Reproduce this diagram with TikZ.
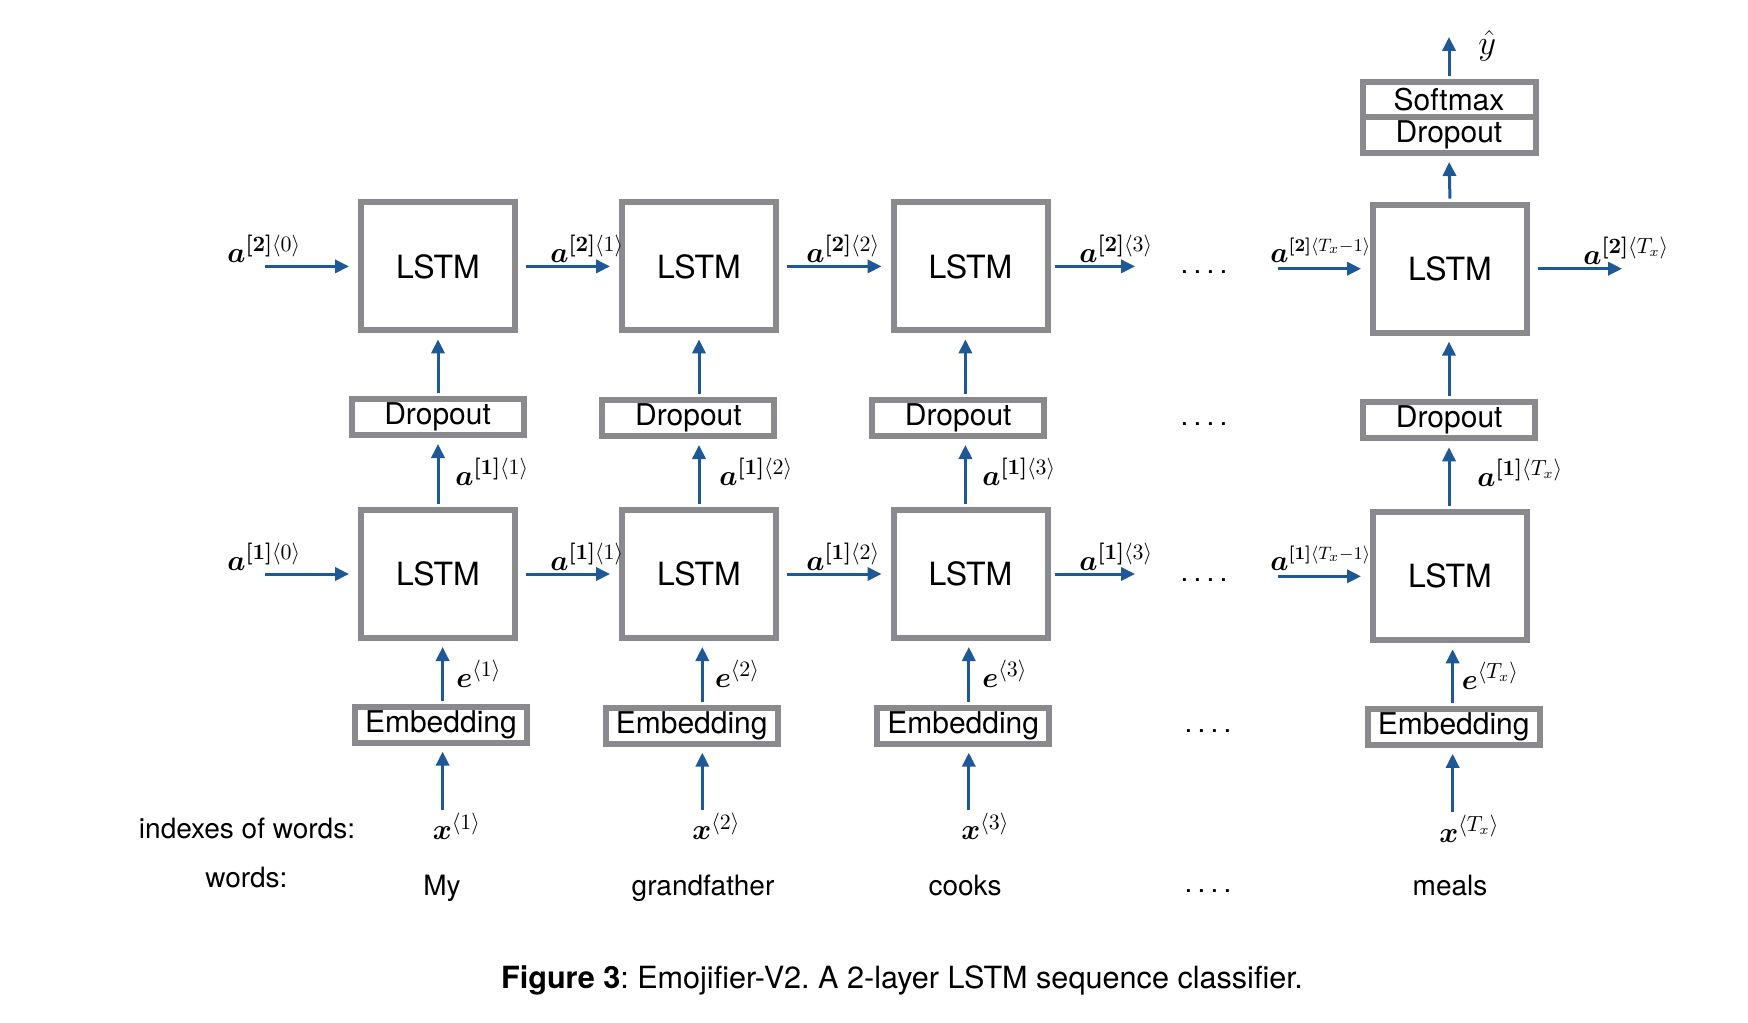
\documentclass[tikz,border=0pt]{standalone}
\usepackage[no-math]{fontspec}
\setmainfont{TeX Gyre Heros}
\usepackage{bm}
\usetikzlibrary{arrows.meta}
\definecolor{arrblue}{RGB}{30,88,150}
\definecolor{boxgray}{RGB}{138,138,142}
\newcommand{\sepdots}{.\hspace{2.6pt}.\hspace{2.6pt}.\hspace{2.6pt}.}
\tikzset{
  lstmbox/.style={draw=boxgray, line width=3pt, minimum width=77pt, minimum height=64pt, inner sep=0pt, font=\fontsize{16}{19}\selectfont},
  layerbox/.style={draw=boxgray, line width=3pt, minimum width=86pt, minimum height=18pt, inner sep=0pt, font=\fontsize{15}{18}\selectfont},
  arr/.style={draw=arrblue, line width=1.5pt, -{Triangle[length=7pt,width=6.6pt]}},
  harr/.style={arr, shorten <=4pt, shorten >=4.5pt},
  varr/.style={arr, shorten <=1.5pt, shorten >=3pt},
  mlab/.style={font=\fontsize{15}{17}\selectfont, inner sep=0pt, anchor=base west},
  slab/.style={mlab, font=\fontsize{13.5}{16}\selectfont},
  wtxt/.style={font=\fontsize{14}{17}\selectfont, inner sep=0pt, anchor=base},
  dotstxt/.style={font=\fontsize{14}{17}\selectfont, inner sep=0pt, anchor=base},
}
\begin{document}
\begin{tikzpicture}[x=0.5pt,y=-0.5pt]
\useasboundingbox (0,0) rectangle (1748,1022);

% LSTM layer 2
\node[lstmbox] (L21) at (438,266.4) {LSTM};
\node[lstmbox] (L22) at (699,266.4) {LSTM};
\node[lstmbox] (L23) at (970.5,266.4) {LSTM};
\node[lstmbox] (L24) at (1450,268.7) {LSTM};
% LSTM layer 1
\node[lstmbox] (L11) at (438,574) {LSTM};
\node[lstmbox] (L12) at (699,574) {LSTM};
\node[lstmbox] (L13) at (970.5,574) {LSTM};
\node[lstmbox] (L14) at (1450,576.3) {LSTM};
% Dropouts
\node[layerbox] (D1) at (437.6,417) {Dropout};
\node[layerbox] (D2) at (688.4,418) {Dropout};
\node[layerbox] (D3) at (958.2,418) {Dropout};
\node[layerbox] (D4) at (1449.2,420.3) {Dropout};
% Embeddings
\node[layerbox] (E1) at (440.9,724.6) {Embedding};
\node[layerbox] (E2) at (691.7,725.7) {Embedding};
\node[layerbox] (E3) at (963.2,725.7) {Embedding};
\node[layerbox] (E4) at (1453.7,726.8) {Embedding};
% Output stack
\node[layerbox, minimum width=86.5pt, minimum height=17.4pt] (SM) at (1449,99.6) {Softmax};
\node[layerbox, minimum width=86.5pt, minimum height=18pt] (DT) at (1449,135) {Dropout};

% arrow column coordinates
\coordinate (u1) at (438,0);
\coordinate (u2) at (699,0);
\coordinate (u3) at (965.4,0);
\coordinate (u4) at (1449,0);
\coordinate (ea1) at (442.6,0);
\coordinate (ea2) at (702.3,0);
\coordinate (ea3) at (968.8,0);
\coordinate (ea4) at (1452.6,0);

% horizontal arrows, layer 2
\coordinate (s20) at (265.3,266.4);
\coordinate (e23) at (1135,266.4);
\coordinate (s2T) at (1277.5,268.7);
\coordinate (e2T) at (1622,268.7);
\draw[arr, shorten >=4.5pt] (s20) -- (L21.west);
\draw[harr] (L21.east) -- (L22.west);
\draw[harr] (L22.east) -- (L23.west);
\draw[arr, shorten <=2pt] (L23.east) -- (e23);
\draw[arr, shorten >=4.5pt] (s2T) -- (L24.west);
\draw[arr, shorten <=4pt] (L24.east) -- (e2T);
% horizontal arrows, layer 1
\coordinate (s10) at (265.3,574);
\coordinate (e13) at (1135,574);
\coordinate (s1T) at (1277.5,576.3);
\draw[arr, shorten >=4.5pt] (s10) -- (L11.west);
\draw[harr] (L11.east) -- (L12.west);
\draw[harr] (L12.east) -- (L13.west);
\draw[arr, shorten <=2pt] (L13.east) -- (e13);
\draw[arr, shorten >=4.5pt] (s1T) -- (L14.west);

% vertical arrows
\foreach \i in {1,2,3,4}{
  \draw[varr] (L1\i.north -| u\i) -- (D\i.south -| u\i);
  \draw[varr] (D\i.north -| u\i) -- (L2\i.south -| u\i);
  \draw[varr] (E\i.north -| ea\i) -- (L1\i.south -| ea\i);
}
\coordinate (xb1) at (442.6,810);
\coordinate (xb2) at (702.3,810);
\coordinate (xb3) at (968.8,810);
\coordinate (xb4) at (1452.6,812);
\foreach \i in {1,2,3,4}{
  \draw[arr, shorten >=3pt] (xb\i) -- (E\i.south -| xb\i);
}
\draw[varr] (L24.north) -- (DT.south);
\coordinate (yout) at (1449,37);
\draw[arr, shorten <=1.5pt] (SM.north) -- (yout);

% horizontal labels
\node[mlab] (la20) at (227,262) {$\bm{a}^{\bm{[2]}\langle 0\rangle}$};
\node[mlab] (la21) at (550,262) {$\bm{a}^{\bm{[2]}\langle 1\rangle}$};
\node[mlab] (la22) at (806,262) {$\bm{a}^{\bm{[2]}\langle 2\rangle}$};
\node[mlab] (la23) at (1079,262) {$\bm{a}^{\bm{[2]}\langle 3\rangle}$};
\node[slab] (la2T1) at (1270,262) {$\bm{a}^{\bm{[2]}\langle T_x-1\rangle}$};
\node[mlab] (la2T) at (1583,264) {$\bm{a}^{\bm{[2]}\langle T_x\rangle}$};
\node[mlab] (la10) at (227,570) {$\bm{a}^{\bm{[1]}\langle 0\rangle}$};
\node[mlab] (la11) at (550,570) {$\bm{a}^{\bm{[1]}\langle 1\rangle}$};
\node[mlab] (la12) at (806,570) {$\bm{a}^{\bm{[1]}\langle 2\rangle}$};
\node[mlab] (la13) at (1079,570) {$\bm{a}^{\bm{[1]}\langle 3\rangle}$};
\node[slab] (la1T1) at (1270,570) {$\bm{a}^{\bm{[1]}\langle T_x-1\rangle}$};
% vertical labels
\node[mlab] (va1) at (455,485) {$\bm{a}^{\bm{[1]}\langle 1\rangle}$};
\node[mlab] (va2) at (719,485) {$\bm{a}^{\bm{[1]}\langle 2\rangle}$};
\node[mlab] (va3) at (982,485) {$\bm{a}^{\bm{[1]}\langle 3\rangle}$};
\node[mlab] (va4) at (1477,486) {$\bm{a}^{\bm{[1]}\langle T_x\rangle}$};
\node[mlab] (ve1) at (456,687) {$\bm{e}^{\langle 1\rangle}$};
\node[mlab] (ve2) at (714.6,687) {$\bm{e}^{\langle 2\rangle}$};
\node[mlab] (ve3) at (982,687) {$\bm{e}^{\langle 3\rangle}$};
\node[mlab] (ve4) at (1461.5,689) {$\bm{e}^{\langle T_x\rangle}$};
\node[mlab] (vx1) at (432.5,839.5) {$\bm{x}^{\langle 1\rangle}$};
\node[mlab] (vx2) at (692,839.5) {$\bm{x}^{\langle 2\rangle}$};
\node[mlab] (vx3) at (961,839.5) {$\bm{x}^{\langle 3\rangle}$};
\node[mlab] (vx4) at (1439,842) {$\bm{x}^{\langle T_x\rangle}$};
\node[mlab, font=\fontsize{16}{19}\selectfont] (yhat) at (1478,55) {$\hat{y}$};

% dots
\node[dotstxt] (d1) at (1204,273) {\sepdots};
\node[dotstxt] (d2) at (1204,425) {\sepdots};
\node[dotstxt] (d3) at (1204,581) {\sepdots};
\node[dotstxt] (d4) at (1208,732) {\sepdots};
\node[dotstxt] (d5) at (1208,892) {\sepdots};

% words
\node[wtxt] (idx) at (247,838) {indexes of words:};
\node[wtxt] (wds) at (246.4,887) {words:};
\node[wtxt] (w1) at (442,895) {My};
\node[wtxt] (w2) at (703,895) {grandfather};
\node[wtxt] (w3) at (965,895) {cooks};
\node[wtxt] (w4) at (1450,895) {meals};

% caption
\node[wtxt, font=\fontsize{15.3}{18}\selectfont] (cap) at (902,988) {\frenchspacing\textbf{Figure 3}: Emojifier-V2. A 2-layer LSTM sequence classifier.};
\end{tikzpicture}
\end{document}
